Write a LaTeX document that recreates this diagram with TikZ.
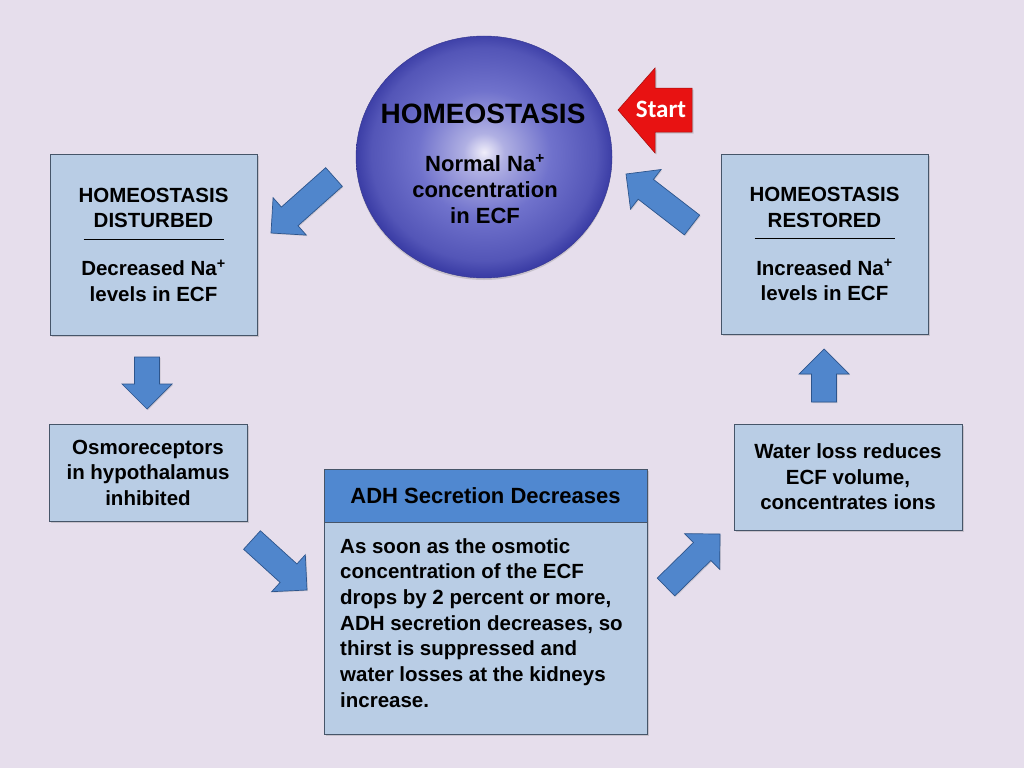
\documentclass[tikz,border=0pt]{standalone}
\usepackage{fontspec}
\setmainfont{Liberation Sans}
\newfontfamily\startfont{Carlito}
\usepackage{tikz}
\usetikzlibrary{calc,shadows,shapes.geometric}

\definecolor{slidebg}{RGB}{230,222,236}
\definecolor{boxfill}{RGB}{185,205,229}
\definecolor{boxline}{RGB}{70,85,105}
\definecolor{arrowfill}{RGB}{80,134,204}
\definecolor{arrowline}{RGB}{45,85,140}
\definecolor{headfill}{RGB}{80,136,208}
\definecolor{startred}{RGB}{232,18,18}
\definecolor{ballout}{RGB}{60,62,166}
\definecolor{ballmid}{RGB}{112,114,204}
\definecolor{ballin}{RGB}{240,238,250}

\pgfdeclareradialshading{ballshade}{\pgfpoint{0bp}{1bp}}{color(0bp)=(ballin); color(4bp)=(ballin!50!ballmid); color(13bp)=(ballmid); color(22bp)=(ballmid!45!ballout); color(25bp)=(ballout); color(50bp)=(ballout)}

\newcommand{\fatarrow}[2]{%
\coordinate (fa-h) at ($(#2)!25pt!(#1)$);
\draw[fatarrow] ($(#1)!12.5pt!90:(#2)$) -- ($(fa-h)!12.5pt!90:(#2)$) -- ($(fa-h)!25pt!90:(#2)$) -- (#2)
  -- ($(fa-h)!25pt!-90:(#2)$) -- ($(fa-h)!12.5pt!-90:(#2)$) -- ($(#1)!12.5pt!-90:(#2)$) -- cycle;}

\begin{document}
\begin{tikzpicture}[x=1pt, y=-1pt,
  box/.style={draw=boxline, line width=0.8pt, fill=boxfill, align=center, inner sep=0pt,
    font=\bfseries\fontsize{20.5}{25.5}\selectfont,
    drop shadow={shadow xshift=1.5pt, shadow yshift=-1.5pt, opacity=0.3}},
  headbox/.style={draw=boxline, line width=0.8pt, fill=headfill, inner sep=0pt,
    font=\bfseries\fontsize{22}{26}\selectfont},
  fatarrow/.style={draw=arrowline, line width=0.7pt, fill=arrowfill, line join=miter,
    drop shadow={shadow xshift=1pt, shadow yshift=-1pt, opacity=0.25}}]
\useasboundingbox (0,0) rectangle (1024,768);
\fill[slidebg] (0,0) rectangle (1024,768);

% centre
\node[ellipse, minimum width=256pt, minimum height=242pt, inner sep=0pt, shading=ballshade,
  draw=ballout!85!black, line width=0.4pt,
  drop shadow={shadow xshift=0pt, shadow yshift=-2pt, opacity=0.3}] (homeo) at (484,157) {};
\node[font=\bfseries\fontsize{28}{32}\selectfont, anchor=base] (homeo-title) at (483,123) {HOMEOSTASIS};
\node[font=\bfseries\fontsize{22}{26}\selectfont, align=center] (homeo-text) at (485,189) {Normal Na\textsuperscript{+}\\concentration\\in ECF};

% start
\filldraw[fill=startred, draw=startred!70!black, line width=0.5pt, drop shadow={shadow xshift=1.5pt, shadow yshift=-1.5pt, opacity=0.3}]
  (618,110) -- (655,68) -- (655,88) -- (692,88) -- (692,132) -- (655,132) -- (655,153) -- cycle;
\node[font=\startfont\bfseries\fontsize{25}{28}\selectfont, text=white, anchor=base] (start) at (661,117) {Start};

% boxes
\node[box, minimum width=207pt, minimum height=181pt] (disturbed) at (153.5,244.5)
  {HOMEOSTASIS\\DISTURBED\\[-13.5pt]\rule{140pt}{0.8pt}\\[10.5pt]Decreased Na\textsuperscript{+}\\levels in ECF};
\node[box, minimum width=198pt, minimum height=97pt] (osmo) at (148,472.5)
  {Osmoreceptors\\in hypothalamus\\inhibited};
\node[box, minimum width=323pt, minimum height=265pt] (adh) at (485.5,601.5) {};
\node[headbox, minimum width=323pt, minimum height=53pt, anchor=north] (adh-head) at (adh.north) {ADH Secretion Decreases};
\node[anchor=north west, align=left, inner sep=0pt, font=\bfseries\fontsize{20.5}{25.7}\selectfont] (adh-text) at (340,538)
  {As soon as the osmotic\\concentration of the ECF\\drops by 2 percent or more,\\ADH secretion decreases, so\\thirst is suppressed and\\water losses at the kidneys\\increase.};
\node[box, minimum width=228pt, minimum height=106pt] (water) at (848,477)
  {Water loss reduces\\ECF volume,\\concentrates ions};
\node[box, minimum width=207pt, minimum height=180pt] (restored) at (824.5,244)
  {HOMEOSTASIS\\RESTORED\\[-13.5pt]\rule{140pt}{0.8pt}\\[10.5pt]Increased Na\textsuperscript{+}\\levels in ECF};

% block arrows
\coordinate (a1-tail) at (334,177);  \coordinate (a1-tip) at (271,233);
\coordinate (a2-tail) at (147,357);  \coordinate (a2-tip) at (147,409);
\coordinate (a3-tail) at (252,540);  \coordinate (a3-tip) at (307,590);
\coordinate (a4-tail) at (666,587);  \coordinate (a4-tip) at (720,534);
\coordinate (a5-tail) at (824,402);  \coordinate (a5-tip) at (824,349);
\coordinate (a6-tail) at (692,225);  \coordinate (a6-tip) at (626,174);
\fatarrow{a1-tail}{a1-tip}
\fatarrow{a2-tail}{a2-tip}
\fatarrow{a3-tail}{a3-tip}
\fatarrow{a4-tail}{a4-tip}
\fatarrow{a5-tail}{a5-tip}
\fatarrow{a6-tail}{a6-tip}
\end{tikzpicture}
\end{document}
